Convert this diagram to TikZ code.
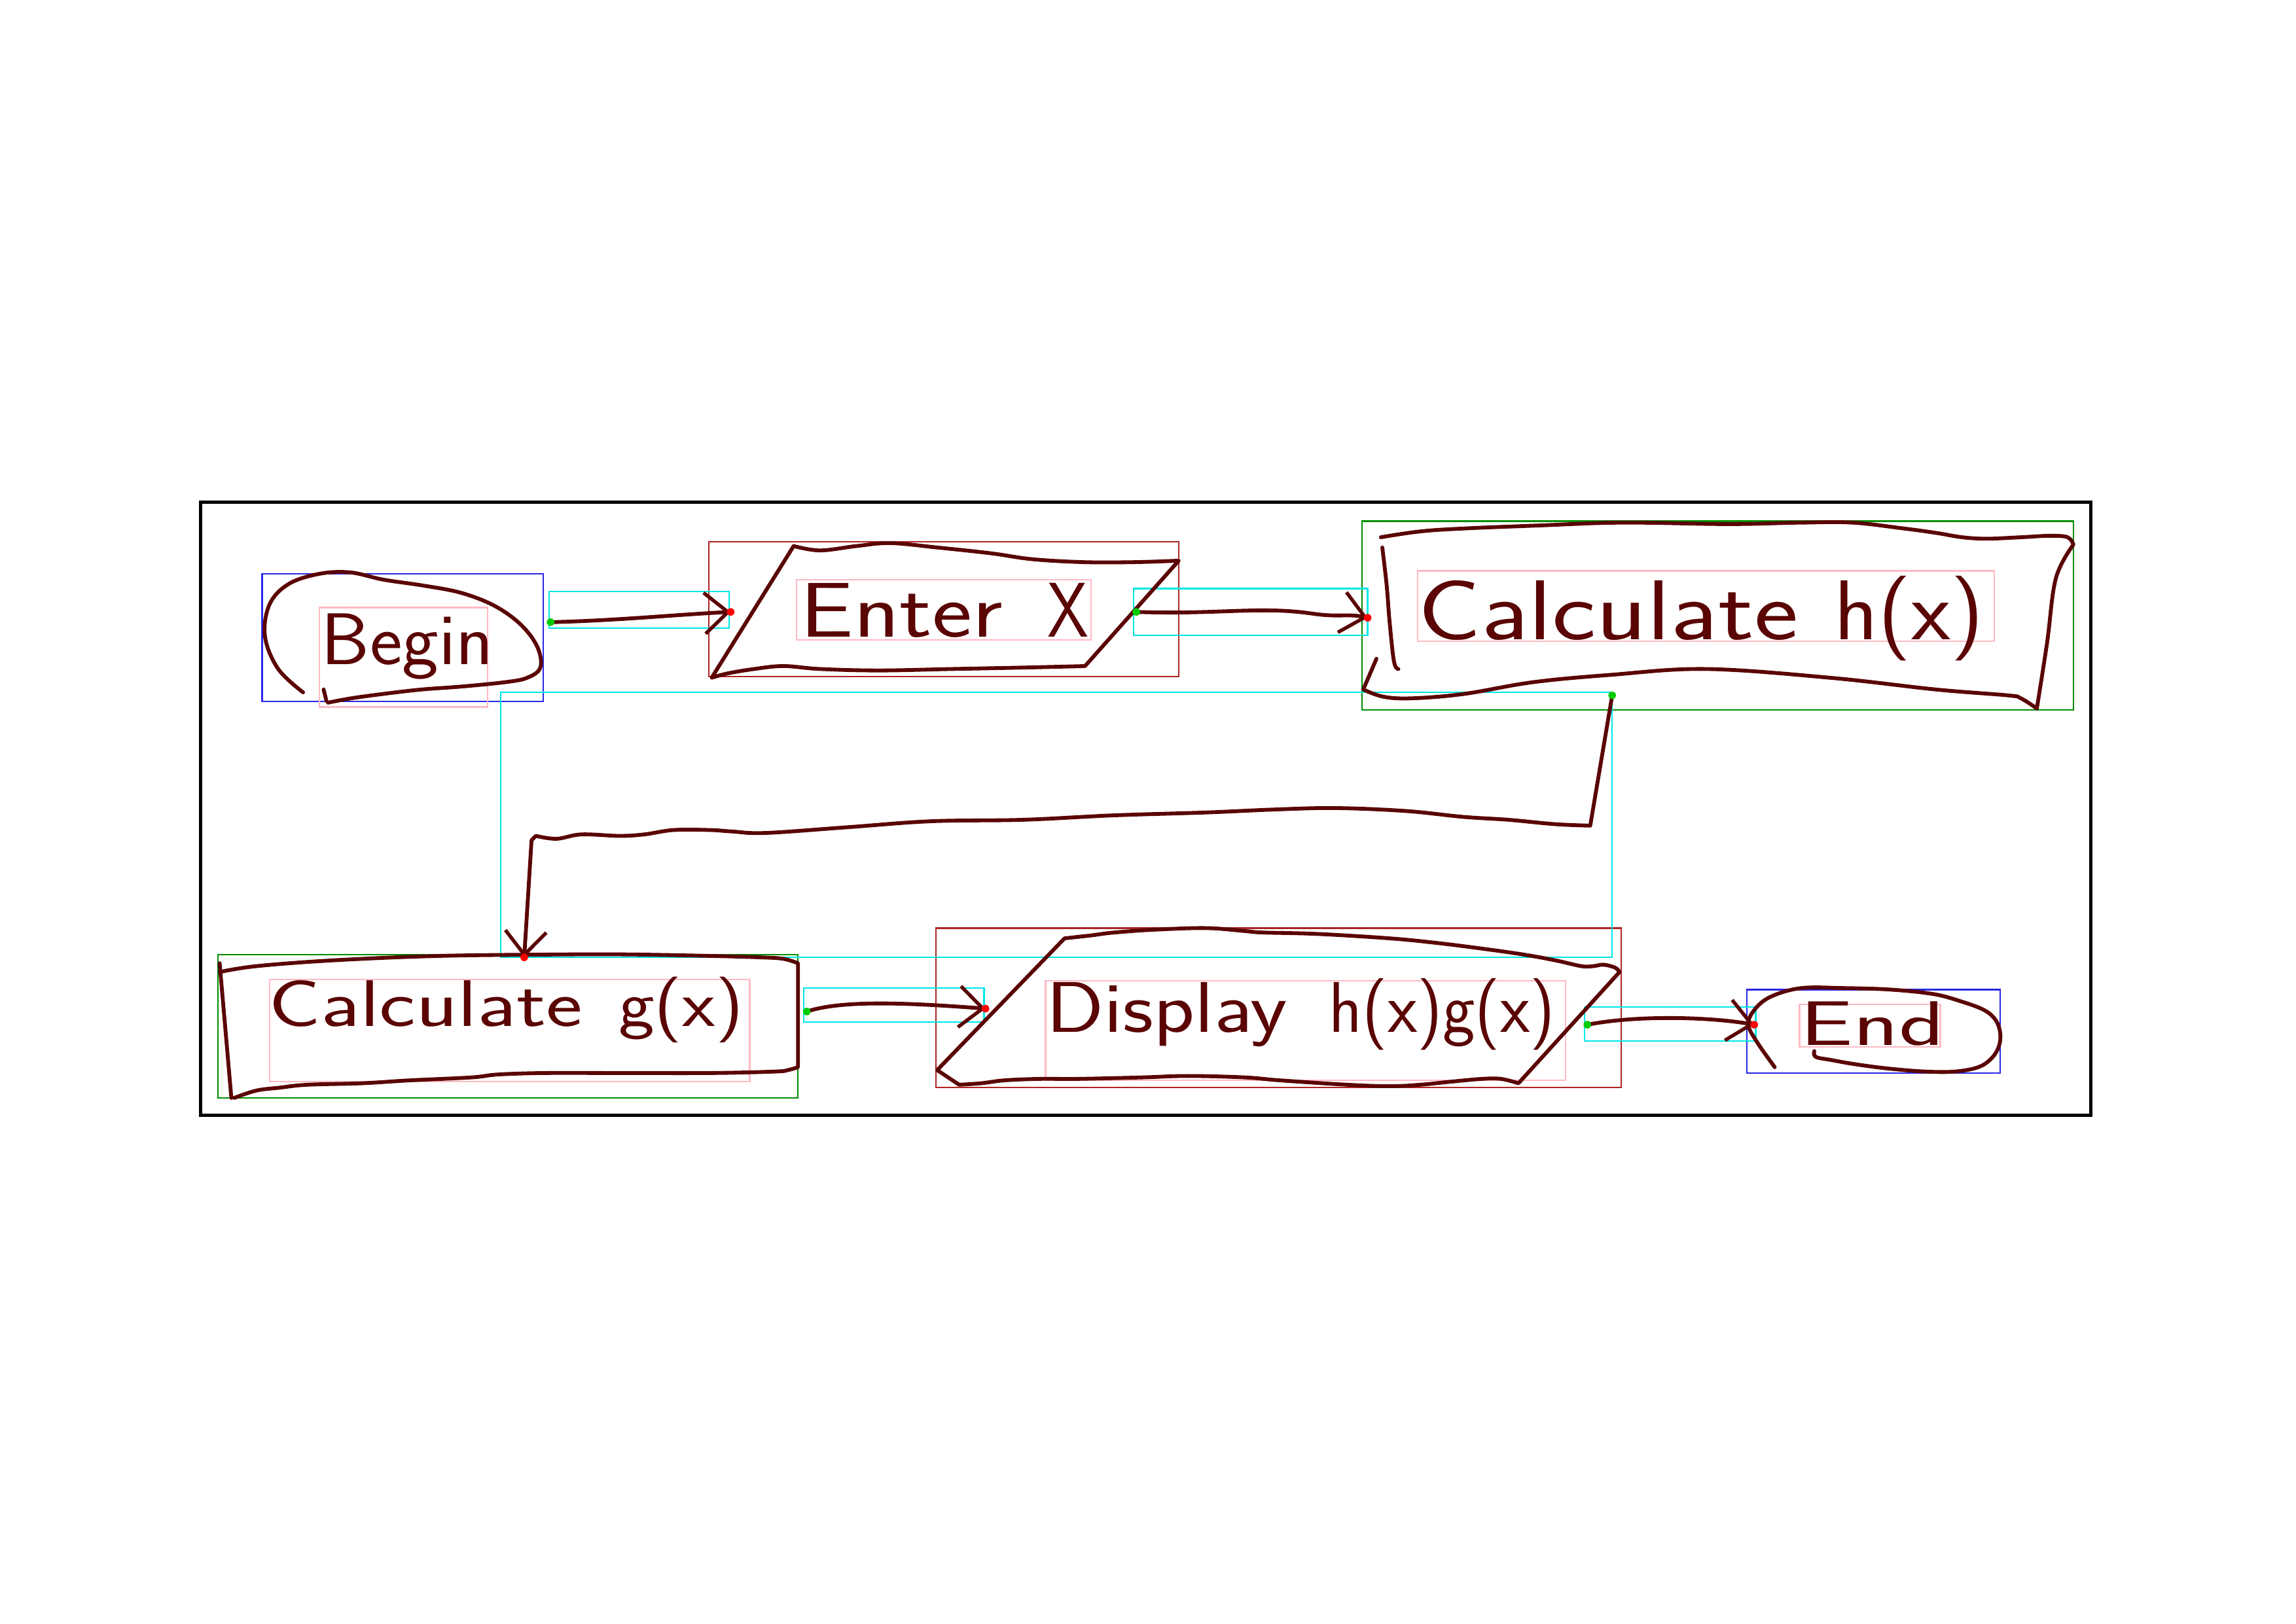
\documentclass[tikz,border=0pt]{standalone}
\usepackage{fontspec}
\usepackage{graphicx}
\usetikzlibrary{arrows.meta,fit}
\definecolor{ink}{RGB}{90,4,4}
\definecolor{annblue}{RGB}{40,40,230}
\definecolor{annred}{RGB}{175,35,35}
\definecolor{anngreen}{RGB}{0,140,0}
\definecolor{anncyan}{RGB}{0,230,230}
\definecolor{annpink}{RGB}{255,185,195}
\newcommand{\hw}[3]{\scalebox{#2}[1]{\fontsize{#1}{#1}\selectfont #3}}
\begin{document}
\begin{tikzpicture}[x=0.5pt,y=-0.5pt,
  pen/.style={draw=ink, line width=1.3pt, line cap=round, line join=round},
  conn/.style={pen, -{Straight Barb[length=8pt,width=14pt,line width=1.2pt]}},
  annbox/.style={inner sep=0pt, line width=0.5pt},
  txt/.style={inner sep=0pt, text=ink, font=\sffamily, anchor=base west},
  startdot/.style={fill=green!80!black},
  enddot/.style={fill=red}]
\fill[white] (0,0) rectangle (1568,1109);
\useasboundingbox (0,0) rectangle (1568,1109);

% outer frame
\node[fit={(137,343) (1428,762)}, inner sep=0pt, draw=black, line width=1.1pt] (frame) {};

% annotation boxes (shapes)
\node[annbox, draw=annblue,  fit={(179,392) (371,479)}] (begin) {};
\node[annbox, draw=annred,   fit={(484,370) (805,462)}] (enterx) {};
\node[annbox, draw=anngreen, fit={(930,356) (1416,485)}] (calch) {};
\node[annbox, draw=anngreen, fit={(149,652) (545,750)}] (calcg) {};
\node[annbox, draw=annred,   fit={(639,634) (1107,743)}] (display) {};
\node[annbox, draw=annblue,  fit={(1193,676) (1366,733)}] (endn) {};
% annotation boxes (connectors)
\node[annbox, draw=anncyan, fit={(375,404) (498,429)}] (c1box) {};
\node[annbox, draw=anncyan, fit={(774,402) (934,434)}] (c2box) {};
\node[annbox, draw=anncyan, fit={(342,473) (1101,654)}] (c3box) {};
\node[annbox, draw=anncyan, fit={(549,675) (672,698)}] (c4box) {};
\node[annbox, draw=anncyan, fit={(1082,688) (1199,711)}] (c5box) {};
% annotation boxes (texts)
\node[annbox, draw=annpink, fit={(218,415) (333,483)}] (p1) {};
\node[annbox, draw=annpink, fit={(544,396) (745,437)}] (p2) {};
\node[annbox, draw=annpink, fit={(968,390) (1362,438)}] (p3) {};
\node[annbox, draw=annpink, fit={(184,669) (512,739)}] (p4) {};
\node[annbox, draw=annpink, fit={(714,670) (1069,738)}] (p5) {};
\node[annbox, draw=annpink, fit={(1229,686) (1325,715)}] (p6) {};

% Begin (hand-drawn oval)
\draw[pen] plot[smooth, tension=0.6] coordinates {(207,473) (190,457) (181,435) (184,413) (197,399) (218,392) (239,391) (262,396) (289,400) (315,405) (338,414) (356,427) (367,442) (369,456) (360,463) (345,466) (315,469) (288,471) (262,474) (240,477) (224,480)};
\draw[pen] (221,471) -- (223,479);

% Enter X (parallelogram)
\draw[pen] plot[smooth, tension=0.6] coordinates {(542,373) (560,376) (585,373) (608,371) (640,374) (677,378) (705,382) (740,384) (775,384) (805,383)}
  -- (741,455)
  -- plot[smooth, tension=0.6] coordinates {(741,455) (700,456) (650,457) (600,458) (560,457) (535,455) (515,457) (497,460) (486,463)}
  -- (542,373);

% Calculate h(x) (rectangle)
\draw[pen] plot[smooth, tension=0.6] coordinates {(943,367) (970,363) (1000,361) (1050,359) (1108,357) (1180,358) (1230,357) (1265,357) (1300,361) (1322,364) (1340,367) (1357,368) (1380,367) (1400,366) (1412,367) (1416,372)}
  -- plot[smooth, tension=0.6] coordinates {(1416,372) (1404,395) (1398,439) (1391,484)}
  -- plot[smooth, tension=0.6] coordinates {(1391,484) (1380,477) (1371,475) (1322,471) (1250,463) (1165,457) (1100,461) (1047,466) (1000,474) (965,477) (945,476) (931,471)}
  -- (940,450);
\draw[pen] plot[smooth, tension=0.6] coordinates {(944,374) (947,400) (949,425) (952,452) (955,457)};

% Calculate g(x) (rectangle)
\draw[pen] plot[smooth, tension=0.6] coordinates {(150,664) (175,660) (228,656) (300,653) (385,652) (430,652) (485,653) (520,654) (535,655) (545,658)}
  -- (545,729)
  -- plot[smooth, tension=0.6] coordinates {(545,729) (538,731) (529,732) (485,733) (420,733) (372,733) (340,734) (322,736) (280,738) (247,740) (210,741) (191,743) (175,745) (160,750)};
\draw[pen] (150,658) -- (158,750);

% Display h(x)g(x) (parallelogram)
\draw[pen] plot[smooth, tension=0.6] coordinates {(727,641) (745,639) (761,637) (790,635) (824,634) (850,636) (862,637) (900,638) (949,641) (980,644) (1012,648) (1040,652) (1062,656) (1080,660) (1088,660) (1095,659) (1103,661) (1106,664)}
  -- (1037,740)
  -- plot[smooth, tension=0.6] coordinates {(1037,740) (1025,737) (1012,737) (990,739) (970,741) (949,742) (920,741) (874,738) (850,736) (811,735) (780,736) (736,737) (710,737) (686,738) (670,740) (655,741)}
  -- (640,731) -- (727,641);

% End (hand-drawn oval)
\draw[pen] plot[smooth, tension=0.6] coordinates {(1212,729) (1200,712) (1194,700) (1198,690) (1209,681) (1230,675) (1260,675) (1291,676) (1320,679) (1339,684) (1355,690) (1363,697) (1366,706) (1365,715) (1360,723) (1351,729) (1335,732) (1315,732) (1290,730) (1267,727) (1250,724) (1240,722) (1239,718)};

% texts
\node[txt] (tbegin)   at (219,454) {\hw{25}{1.06}{Begin}};
\node[txt] (tenterx)  at (546,435) {\hw{26.5}{1.23}{Enter}\ \hspace{12pt}\hw{26.5}{0.85}{X}};
\node[txt] (tcalch)   at (968,437) {\hw{29}{1.24}{Calculate}\ \hspace{9pt}\hw{29}{1.07}{h(x)}};
\node[txt] (tcalcg)   at (183,701) {\hw{22.5}{1.32}{Calculate}\ \hspace{9pt}\hw{22.5}{1.16}{g(x)}};
\node[txt] (tdisplay) at (714,705) {\hw{24.5}{1.19}{Display}\ \hspace{11pt}\hw{24.5}{0.96}{h(x)g(x)}};
\node[txt] (tend)     at (1229,714) {\hw{21.5}{1.5}{End}};

% connector end points
\coordinate (a1s) at (376,425);  \coordinate (a1e) at (499,418);
\coordinate (a2s) at (776,418);  \coordinate (a2e) at (934,422);
\coordinate (a3s) at (1101,475); \coordinate (a3e) at (358,654);
\coordinate (a4s) at (551,691);  \coordinate (a4e) at (673,689);
\coordinate (a5s) at (1084,700); \coordinate (a5e) at (1198,700);

% connectors
\draw[conn] (a1s) .. controls (420,424) and (460,420) .. (a1e);
\draw[conn] (a2s) .. controls (830,420) and (860,414) .. (895,419) .. controls (915,422) and (920,419) .. (a2e);
\draw[conn] (a3s) -- (1086,564)
  -- plot[smooth, tension=0.6] coordinates {(1086,564) (1062,563) (1030,560) (999,558) (960,554) (912,552) (870,553) (824,555) (760,557) (699,560) (636,561) (580,565) (523,569) (500,568) (485,567) (460,567) (440,570) (423,571) (397,570) (380,573) (366,571)}
  -- (363,574) -- (a3e);
\draw[conn] (a4s) .. controls (575,683) and (620,685) .. (a4e);
\draw[conn] (a5s) .. controls (1120,693) and (1170,695) .. (a5e);

% end-point markers
\foreach \p in {a1s,a2s,a3s,a4s,a5s} \fill[startdot] (\p) circle[radius=1.3pt];
\foreach \p in {a1e,a2e,a3e,a4e,a5e} \fill[enddot] (\p) circle[radius=1.3pt];
\end{tikzpicture}
\end{document}
